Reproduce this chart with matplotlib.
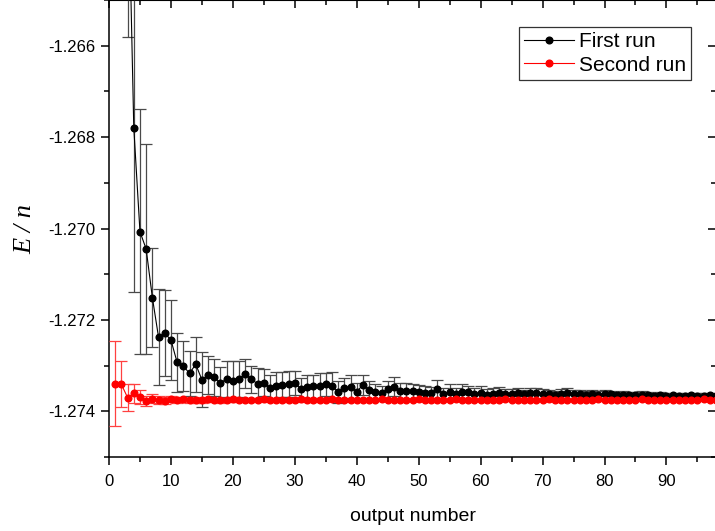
import numpy as np
from matplotlib import pyplot as plt
from matplotlib.ticker import MultipleLocator, FormatStrFormatter

plt.rcParams['font.family'] = ['Liberation Sans', 'DejaVu Sans']

# output number 1..98
output_number = list(range(1, 99))

first_run = [
    -1.25400, -1.25850, -1.26160, -1.26779, -1.27007, -1.27045, -1.27151, -1.27238, -1.27229, -1.27244,
    -1.27293, -1.27301, -1.27317, -1.27297, -1.27331, -1.27321, -1.27326, -1.27338, -1.27329, -1.27333,
    -1.27329, -1.27318, -1.27330, -1.27340, -1.27337, -1.27349, -1.27345, -1.27342, -1.27340, -1.27338,
    -1.27351, -1.27346, -1.27345, -1.27344, -1.27341, -1.27345, -1.27357, -1.27349, -1.27347, -1.27357,
    -1.27342, -1.27353, -1.27358, -1.27360, -1.27352, -1.27346, -1.27356, -1.27356, -1.27356, -1.27358,
    -1.27360, -1.27360, -1.27352, -1.27362, -1.27357, -1.27362, -1.27358, -1.27358, -1.27362, -1.27360,
    -1.27364, -1.27362, -1.27360, -1.27362, -1.27363, -1.27361, -1.27363, -1.27361, -1.27360, -1.27362,
    -1.27363, -1.27364, -1.27362, -1.27361, -1.27363, -1.27362, -1.27364, -1.27363, -1.27364, -1.27362,
    -1.27363, -1.27365, -1.27364, -1.27364, -1.27365, -1.27364, -1.27365, -1.27366, -1.27365, -1.27366,
    -1.27365, -1.27366, -1.27366, -1.27365, -1.27366, -1.27366, -1.27365, -1.27366,
]
first_err = [
    0.00600, 0.00500, 0.00420, 0.00360, 0.00268, 0.00230, 0.00109, 0.00105, 0.00094, 0.00088,
    0.00065, 0.00055, 0.00050, 0.00060, 0.00060, 0.00042, 0.00040, 0.00036, 0.00039, 0.00042,
    0.00040, 0.00032, 0.00030, 0.00034, 0.00030, 0.00028, 0.00030, 0.00027, 0.00028, 0.00026,
    0.00024, 0.00026, 0.00025, 0.00028, 0.00025, 0.00031, 0.00024, 0.00022, 0.00026, 0.00020,
    0.00022, 0.00020, 0.00018, 0.00016, 0.00018, 0.00020, 0.00018, 0.00017, 0.00016, 0.00016,
    0.00015, 0.00014, 0.00020, 0.00014, 0.00016, 0.00013, 0.00017, 0.00013, 0.00012, 0.00015,
    0.00012, 0.00012, 0.00013, 0.00011, 0.00012, 0.00011, 0.00010, 0.00011, 0.00012, 0.00010,
    0.00010, 0.00009, 0.00010, 0.00011, 0.00009, 0.00009, 0.00008, 0.00009, 0.00008, 0.00009,
    0.00008, 0.00007, 0.00008, 0.00007, 0.00007, 0.00008, 0.00007, 0.00006, 0.00007, 0.00006,
    0.00006, 0.00006, 0.00005, 0.00006, 0.00005, 0.00005, 0.00006, 0.00005,
]

second_run = [
    -1.27340, -1.27341, -1.27370, -1.27361, -1.27368, -1.27377, -1.27372, -1.27375, -1.27377, -1.27373,
    -1.27375, -1.27374, -1.27376, -1.27375, -1.27376, -1.27374, -1.27375, -1.27376, -1.27375, -1.27374,
    -1.27375, -1.27376, -1.27375, -1.27375, -1.27374, -1.27376, -1.27375, -1.27375, -1.27376, -1.27375,
    -1.27374, -1.27375, -1.27376, -1.27375, -1.27375, -1.27374, -1.27375, -1.27376, -1.27375, -1.27375,
    -1.27375, -1.27376, -1.27375, -1.27374, -1.27375, -1.27375, -1.27376, -1.27375, -1.27375, -1.27374,
    -1.27375, -1.27376, -1.27375, -1.27375, -1.27375, -1.27374, -1.27375, -1.27376, -1.27375, -1.27375,
    -1.27375, -1.27376, -1.27375, -1.27374, -1.27375, -1.27375, -1.27376, -1.27375, -1.27375, -1.27375,
    -1.27374, -1.27375, -1.27376, -1.27375, -1.27375, -1.27375, -1.27376, -1.27375, -1.27374, -1.27375,
    -1.27375, -1.27376, -1.27375, -1.27375, -1.27375, -1.27374, -1.27375, -1.27376, -1.27375, -1.27375,
    -1.27375, -1.27375, -1.27376, -1.27375, -1.27375, -1.27374, -1.27375, -1.27375,
]
second_err = [
    0.00093, 0.00050, 0.00030, 0.00020, 0.00015, 0.00011, 0.00010, 0.00009, 0.00008, 0.00007,
    0.00007, 0.00006, 0.00006, 0.00006, 0.00005, 0.00005, 0.00005, 0.00005, 0.00005, 0.00005,
    0.00004, 0.00004, 0.00004, 0.00004, 0.00004, 0.00004, 0.00004, 0.00004, 0.00004, 0.00004,
    0.00004, 0.00004, 0.00004, 0.00004, 0.00003, 0.00003, 0.00003, 0.00003, 0.00003, 0.00003,
    0.00003, 0.00003, 0.00003, 0.00003, 0.00003, 0.00003, 0.00003, 0.00003, 0.00003, 0.00003,
    0.00003, 0.00003, 0.00003, 0.00003, 0.00003, 0.00003, 0.00003, 0.00003, 0.00003, 0.00003,
    0.00003, 0.00003, 0.00003, 0.00003, 0.00003, 0.00003, 0.00003, 0.00003, 0.00003, 0.00003,
    0.00003, 0.00003, 0.00003, 0.00003, 0.00003, 0.00003, 0.00003, 0.00003, 0.00003, 0.00003,
    0.00003, 0.00003, 0.00003, 0.00003, 0.00003, 0.00003, 0.00003, 0.00003, 0.00003, 0.00003,
    0.00003, 0.00003, 0.00003, 0.00003, 0.00003, 0.00003, 0.00003, 0.00003,
]

fig = plt.figure(figsize=(7.15, 5.31), dpi=100)
ax = fig.add_axes([109/715, 74/531, 607/715, 457/531])

# error bars first, then line + markers on top
ax.errorbar(output_number, first_run, yerr=first_err, fmt='none',
            ecolor='#4a4a4a', elinewidth=0.9, capsize=4, capthick=0.9, zorder=2)
ax.plot(output_number, first_run, '-o', color='black', lw=0.8, ms=4.8,
        label='First run', zorder=3)
ax.errorbar(output_number, second_run, yerr=second_err, fmt='none',
            ecolor='#ff4040', elinewidth=0.9, capsize=4, capthick=0.9, zorder=4)
ax.plot(output_number, second_run, '-o', color='red', lw=0.8, ms=4.8,
        label='Second run', zorder=5)

ax.set_xlim(0, 98)
ax.set_ylim(-1.275, -1.265)

ax.xaxis.set_major_locator(MultipleLocator(10))
ax.xaxis.set_minor_locator(MultipleLocator(5))
ax.yaxis.set_major_locator(MultipleLocator(0.002))
ax.yaxis.set_minor_locator(MultipleLocator(0.001))
ax.yaxis.set_major_formatter(FormatStrFormatter('%.3f'))

ax.tick_params(which='major', direction='out', length=6, width=1.1, labelsize=12, pad=4)
ax.tick_params(axis='x', which='major', pad=6)
ax.tick_params(which='minor', direction='out', length=3.6, width=1.1)
for s in ax.spines.values():
    s.set_linewidth(1.1)

# inward ticks on the top and right sides
top = ax.secondary_xaxis('top')
top.xaxis.set_major_locator(MultipleLocator(10))
top.xaxis.set_minor_locator(MultipleLocator(5))
top.tick_params(which='major', direction='in', length=6, width=1.1, labeltop=False)
top.tick_params(which='minor', direction='in', length=3.6, width=1.1)
right = ax.secondary_yaxis('right')
right.yaxis.set_major_locator(MultipleLocator(0.002))
right.yaxis.set_minor_locator(MultipleLocator(0.001))
right.tick_params(which='major', direction='in', length=6, width=1.1, labelright=False)
right.tick_params(which='minor', direction='in', length=3.6, width=1.1)

ax.set_xlabel('output number', fontsize=14, labelpad=14)
ax.set_ylabel('E / n', fontsize=19, fontstyle='italic', family='Liberation Serif', labelpad=8)

leg = ax.legend(loc='upper right', bbox_to_anchor=(0.9588, 0.941), borderaxespad=0,
                fontsize=15, frameon=True, fancybox=False, handlelength=2.4,
                handletextpad=0.2, labelspacing=0.22, borderpad=0.25)
leg.get_frame().set_edgecolor('black')
leg.get_frame().set_linewidth(0.9)

fig.savefig('out.png', dpi=100)
